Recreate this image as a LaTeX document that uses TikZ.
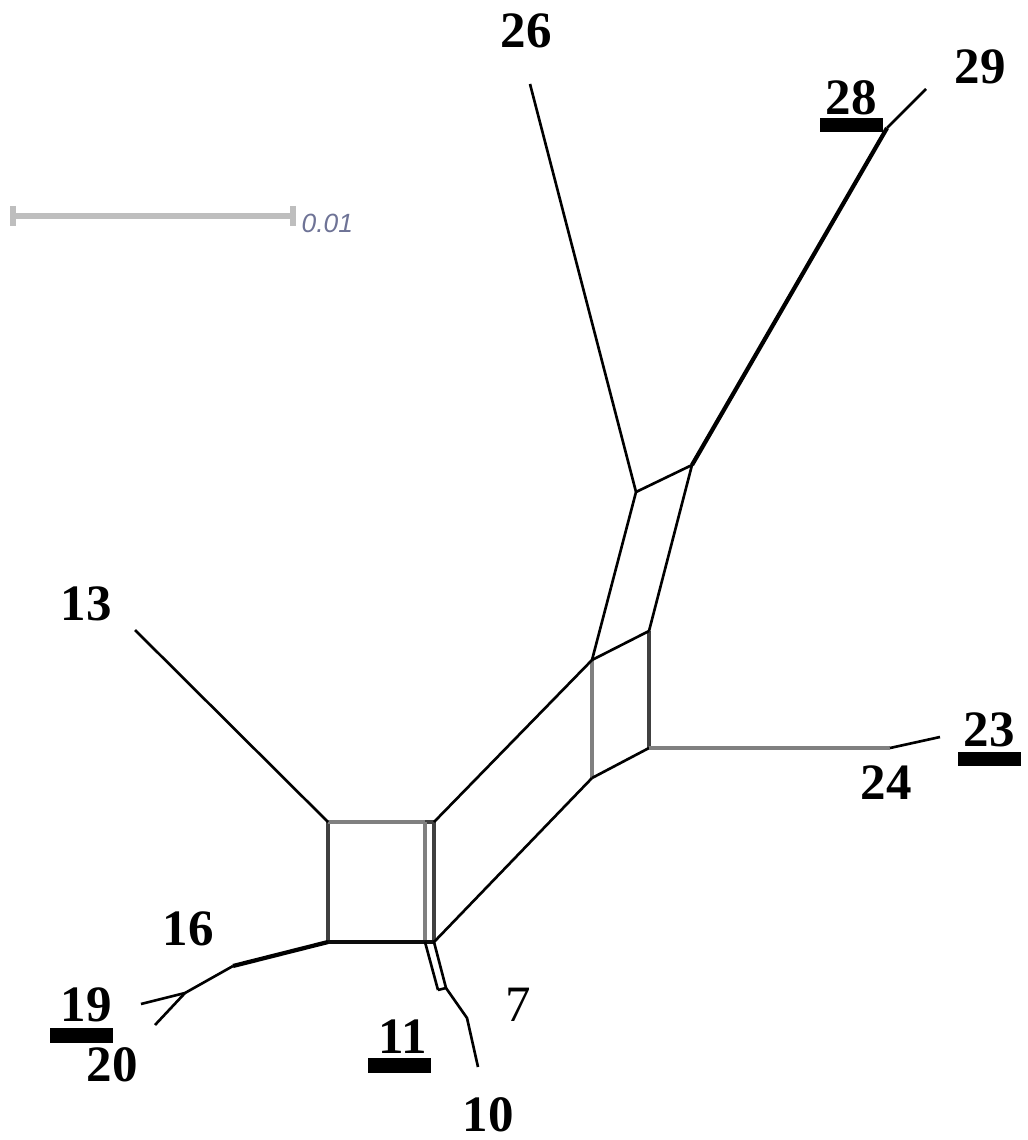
\documentclass[tikz,border=0pt]{standalone}
\usepackage{fontspec}
\setmainfont{Liberation Serif}
\setsansfont{Liberation Sans}
\definecolor{splitgray}{RGB}{128,128,128}
\definecolor{splitdark}{RGB}{64,64,64}
\definecolor{barcol}{RGB}{190,190,190}
\definecolor{scaletext}{RGB}{110,115,150}
\begin{document}
\begin{tikzpicture}[x=0.01cm,y=-0.01cm,
  edge/.style={line width=0.75pt,black,line join=round},
  heavy/.style={line width=1.2pt,black},
  graysplit/.style={line width=1.15pt,splitgray},
  darksplit/.style={line width=1.15pt,splitdark},
  taxon/.style={font=\fontsize{14.5}{17}\selectfont\bfseries,inner sep=0pt},
  taxonreg/.style={font=\fontsize{14.5}{17}\selectfont,inner sep=0pt}]
\useasboundingbox (0,0) rectangle (1027,1140);

% scale bar
\coordinate (s1) at (13,216);
\coordinate (s2) at (293,216);
\coordinate (s1t) at (13,206);
\coordinate (s1b) at (13,226);
\coordinate (s2t) at (293,206);
\coordinate (s2b) at (293,226);
\draw[line width=1.5pt,barcol] (s1) -- (s2);
\draw[line width=1.5pt,barcol] (s1t) -- (s1b);
\draw[line width=1.5pt,barcol] (s2t) -- (s2b);
\node[anchor=west,inner sep=0pt,text=scaletext,font=\sffamily\itshape\fontsize{7.5}{9}\selectfont] (scalelbl) at (301,223) {0.01};

% network vertices
\coordinate (TL) at (328,822);
\coordinate (TRa) at (425,822);
\coordinate (TRb) at (434,822);
\coordinate (BL) at (328,942);
\coordinate (BRa) at (425,942);
\coordinate (BRb) at (434,942);
\coordinate (A) at (592,660);
\coordinate (B) at (649,631);
\coordinate (C) at (649,748);
\coordinate (D) at (592,778);
\coordinate (E) at (636,492);
\coordinate (F) at (692,465);
\coordinate (L26) at (530,84);
\coordinate (K28) at (887,128);
\coordinate (L29) at (926,89);
\coordinate (K23) at (890,748);
\coordinate (L23) at (940,737);
\coordinate (L13) at (135,630);
\coordinate (K16) at (233,966);
\coordinate (K19) at (185,993);
\coordinate (L19) at (141,1004);
\coordinate (L20) at (155,1025);
\coordinate (P1) at (438,990);
\coordinate (P2) at (446,988);
\coordinate (K7) at (467,1018);
\coordinate (L10) at (478,1067);

% left box
\draw[darksplit] (TL) -- (BL);
\draw[graysplit] (TL) -- (TRa);
\draw[darksplit] (TRa) -- (TRb);
\draw[graysplit] (TRa) -- (BRa);
\draw[darksplit] (TRb) -- (BRb);
\draw[line width=1.4pt,black!95] (BL) -- (BRb);

% right boxes
\draw[graysplit] (A) -- (D);
\draw[darksplit] (B) -- (C);
\draw[edge] (A) -- (B);
\draw[edge] (D) -- (C);
\draw[edge] (A) -- (E);
\draw[edge] (B) -- (F);
\draw[edge] (E) -- (F);

% connections between the boxes
\draw[edge] (TRb) -- (A);
\draw[edge] (BRb) -- (D);

% pendant edges
\draw[edge] (E) -- (L26);
\draw[heavy] (F) -- (K28);
\draw[edge] (K28) -- (L29);
\draw[graysplit] (C) -- (K23);
\draw[edge] (K23) -- (L23);
\draw[edge] (TL) -- (L13);
\draw[heavy] (BL) -- (K16);
\draw[edge] (K16) -- (K19);
\draw[edge] (K19) -- (L19);
\draw[edge] (K19) -- (L20);
\draw[edge] (BRa) -- (P1);
\draw[edge] (BRb) -- (P2);
\draw[edge] (P1) -- (P2);
\draw[edge] (P2) -- (K7) -- (L10);

% taxon labels
\node[taxon] (t26) at (526,31) {26};
\node[taxon] (t29) at (980,67) {29};
\node[taxon] (t28) at (851,98) {28};
\node[taxon] (t13) at (86,604) {13};
\node[taxon] (t23) at (989,730) {23};
\node[taxon] (t24) at (886,783) {24};
\node[taxon] (t16) at (188,929) {16};
\node[taxon] (t19) at (86,1005) {19};
\node[taxon] (t20) at (112,1065) {20};
\node[taxon] (t11) at (403,1037) {11};
\node[taxonreg] (t7) at (518,1005) {7};
\node[taxon] (t10) at (488,1115) {10};

% underline bars
\fill[black] (820,118) rectangle (883,132);
\fill[black] (958,752) rectangle (1021,766);
\fill[black] (50,1028) rectangle (113,1043);
\fill[black] (368,1058) rectangle (431,1073);
\end{tikzpicture}
\end{document}
